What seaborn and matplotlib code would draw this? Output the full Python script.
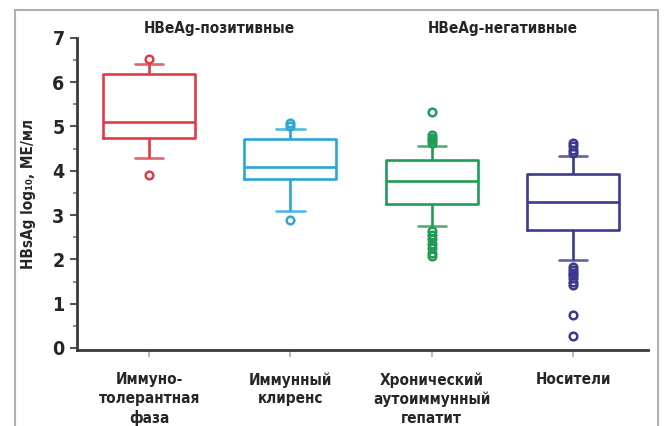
import matplotlib
matplotlib.use("Agg")
import matplotlib.pyplot as plt
from matplotlib.patches import Rectangle
import numpy as np
import pandas as pd
import seaborn as sns

# Phases of chronic HBV infection
categories = ["Иммуно-\nтолерантная\nфаза", "Иммунный\nклиренс",
              "Хронический\nаутоиммунный\nгепатит", "Носители"]
colors = ["#df3c47", "#2ba6d6", "#1f9d57", "#3a3a8e"]

# Box statistics of HBsAg, log10 IU/ml (whiskers = 10th/90th percentiles)
whisker_low = [4.28, 3.10, 2.75, 1.98]
quartile_1 = [4.75, 3.82, 3.25, 2.67]
medians = [5.10, 4.08, 3.78, 3.30]
quartile_3 = [6.18, 4.72, 4.25, 3.92]
whisker_high = [6.42, 4.95, 4.55, 4.33]
outliers_low = [
    [3.90],
    [2.88],
    [2.65, 2.55, 2.45, 2.35, 2.25, 2.15, 2.08],
    [1.82, 1.75, 1.70, 1.65, 1.58, 1.50, 1.42, 0.75, 0.27],
]
outliers_high = [
    [6.52],
    [5.00, 5.07],
    [5.32, 4.80, 4.75, 4.70, 4.62],
    [4.62, 4.55, 4.48, 4.40],
]
group_titles = ["HBeAg-позитивные", "HBeAg-негативные"]


def group_sample(lo, q1, med, q3, hi, low, high):
    """101 observations whose 10/25/50/75/90th percentiles equal the given stats."""
    vals = (sorted(low) + [lo] * (25 - len(low)) + [q1] * 25 + [med] * 25
            + [q3] * 15 + [hi] * (11 - len(high)) + sorted(high))
    return vals


rows = []
for i, cat in enumerate(categories):
    vals = group_sample(whisker_low[i], quartile_1[i], medians[i], quartile_3[i],
                        whisker_high[i], outliers_low[i], outliers_high[i])
    rows += [(cat, v) for v in vals]
df = pd.DataFrame(rows, columns=["phase", "hbsag"])

sns.set_style("ticks")
plt.rcParams["font.family"] = ["DejaVu Sans"]
plt.rcParams["font.stretch"] = "condensed"
plt.rcParams["font.weight"] = "bold"

fig = plt.figure(figsize=(6.7, 4.26), dpi=100)
ax = fig.add_axes([0.115, 0.178, 0.852, 0.733])

sns.boxplot(data=df, x="phase", y="hbsag", hue="phase", order=categories,
            hue_order=categories, palette=colors, fill=False, legend=False,
            width=0.65, linewidth=1.9, whis=(10, 90),
            flierprops=dict(marker="o", markersize=5.5, markeredgewidth=1.8,
                            markerfacecolor="none"),
            ax=ax)

# narrower, slightly faded whisker caps
for cont in ax.containers:
    for cap in getattr(cont, "caps", []):
        xd = np.asarray(cap.get_xdata(), dtype=float)
        c = xd.mean()
        cap.set_xdata([c - 0.1, c + 0.1])
        cap.set_alpha(0.8)

ax.set_xlim(-0.51, 3.53)
ax.set_ylim(-0.05, 7)
ax.set_yticks(range(0, 8))
ax.set_yticks(np.arange(0.5, 7, 1.0), minor=True)
ax.tick_params(axis="y", which="major", length=5, width=1.5, color="#555555",
               labelsize=14, pad=4)
ax.tick_params(axis="y", which="minor", length=3, width=1.2, color="#777777")
ax.tick_params(axis="x", length=5, width=1.2, color="#aaaaaa",
               labelsize=11, pad=11)
for lbl in ax.get_xticklabels():
    lbl.set_linespacing(1.3)
    lbl.set_fontweight("bold")
    lbl.set_fontstretch("condensed")
for lbl in ax.get_yticklabels():
    lbl.set_fontweight("bold")
    lbl.set_fontstretch("condensed")

for side in ["top", "right"]:
    ax.spines[side].set_visible(False)
for side in ["left", "bottom"]:
    ax.spines[side].set_linewidth(2)
    ax.spines[side].set_color("#3a3a3a")

ax.set_xlabel("")
ax.set_ylabel("HBsAg log₁₀, МЕ/мл", fontsize=11, fontweight="bold",
              fontstretch="condensed", labelpad=12)

# group headings above the paired phases
for xpos, title in zip([0.5, 2.5], group_titles):
    ax.text(xpos, 7.22, title, ha="center", va="center", fontsize=11,
            fontweight="bold", fontstretch="condensed")

# light frame around the figure
fig.patches.append(Rectangle((15 / 670, -0.1), 643 / 670, 1.1 - 10 / 426,
                             transform=fig.transFigure, fill=False,
                             edgecolor="#b0b0b0", linewidth=1.5))

fig.savefig("out.png", dpi=100)
